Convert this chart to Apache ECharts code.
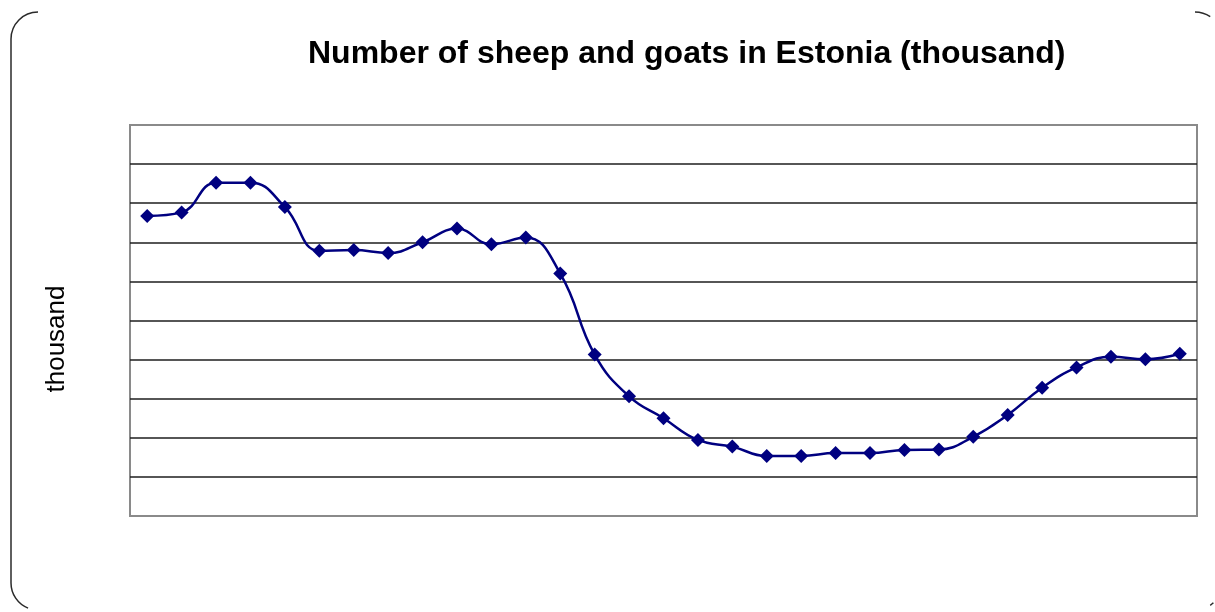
<!DOCTYPE html>
<html>
<head>
<meta charset="utf-8">
<title>Number of sheep and goats in Estonia</title>
<script src="https://cdn.jsdelivr.net/npm/echarts@6/dist/echarts.min.js"></script>
<style>
  html, body { margin: 0; padding: 0; background: #ffffff; }
  #chart { width: 1215px; height: 612px; }
</style>
</head>
<body>
<div id="chart"></div>
<script>
// Yearly counts, one point per year (labels are not shown on the axis)
const years = [
  1980, 1981, 1982, 1983, 1984, 1985, 1986, 1987, 1988, 1989,
  1990, 1991, 1992, 1993, 1994, 1995, 1996, 1997, 1998, 1999,
  2000, 2001, 2002, 2003, 2004, 2005, 2006, 2007, 2008, 2009, 2010
];
const sheepGoats = [
  153.5, 155.3, 170.5, 170.5, 158.0, 135.7, 136.0, 134.5, 140.0, 147.0,
  139.0, 142.5, 124.0, 82.6, 61.2, 50.0, 38.9, 35.5, 30.7, 30.7,
  32.2, 32.2, 33.8, 34.0, 40.5, 51.7, 65.6, 76.0, 81.5, 80.2, 83.0
];
const yMin = 0;
const yMax = 200;
const yStep = 20;

const titleText = 'Number of sheep and goats in Estonia (thousand)';
const yTitle = 'thousand';

// Outer frame: grid edges grey, inner gridlines dark
const lineCount = (yMax - yMin) / yStep + 1;
const splitColors = [];
for (let i = 0; i < lineCount; i++) {
  splitColors.push(i === 0 || i === lineCount - 1 ? '#8a8a8a' : '#1e1e1e');
}

const frameColor = '#2a2a2a';
const chart = echarts.init(document.getElementById('chart'), null, { renderer: 'canvas' });

chart.setOption({
  backgroundColor: '#ffffff',
  animation: false,
  title: {
    text: titleText,
    left: 303,
    top: 33,
    textStyle: {
      fontFamily: '"Liberation Sans", Arial, sans-serif',
      fontSize: 32,
      fontWeight: 'bold',
      color: '#000000'
    }
  },
  grid: {
    left: 130,
    top: 125,
    right: 18,
    bottom: 96,
    show: true,
    borderColor: '#8a8a8a',
    borderWidth: 2,
    backgroundColor: '#ffffff',
    containLabel: false
  },
  xAxis: {
    type: 'category',
    data: years,
    boundaryGap: true,
    axisLine: { show: false },
    axisTick: { show: false },
    axisLabel: { show: false },
    splitLine: { show: false }
  },
  yAxis: {
    type: 'value',
    min: yMin,
    max: yMax,
    interval: yStep,
    axisLine: { show: false },
    axisTick: { show: false },
    axisLabel: { show: false },
    splitLine: { show: true, lineStyle: { color: splitColors, width: 1.5 } }
  },
  series: [{
    name: 'Sheep and goats',
    type: 'line',
    data: sheepGoats,
    smooth: 0.45,
    symbol: 'diamond',
    symbolSize: 14,
    lineStyle: { color: '#000080', width: 2.5 },
    itemStyle: { color: '#000080', borderWidth: 0 }
  }],
  graphic: [
    {
      type: 'text',
      x: 57,
      y: 339,
      rotation: Math.PI / 2,
      style: {
        text: yTitle,
        fontFamily: '"Liberation Sans", Arial, sans-serif',
        fontSize: 26,
        fill: '#000000',
        textAlign: 'center',
        textVerticalAlign: 'middle'
      }
    },
    // rounded frame around the chart
    {
      type: 'line',
      shape: { x1: 11, y1: 39, x2: 11, y2: 583 },
      style: { stroke: frameColor, lineWidth: 1.5 }
    },
    {
      type: 'arc',
      shape: { cx: 38, cy: 39, r: 27, startAngle: Math.PI, endAngle: Math.PI * 1.5, clockwise: true },
      style: { stroke: frameColor, lineWidth: 1.5, fill: null }
    },
    {
      type: 'arc',
      shape: { cx: 38, cy: 583, r: 27, startAngle: Math.PI * 0.62, endAngle: Math.PI, clockwise: true },
      style: { stroke: frameColor, lineWidth: 1.5, fill: null }
    },
    {
      type: 'arc',
      shape: { cx: 1195, cy: 39, r: 27, startAngle: Math.PI * 1.5, endAngle: Math.PI * 1.5 + 0.6, clockwise: true },
      style: { stroke: frameColor, lineWidth: 1.5, fill: null }
    },
    {
      type: 'arc',
      shape: { cx: 1195, cy: 583, r: 27, startAngle: Math.PI * 0.5 - 0.75, endAngle: Math.PI * 0.5 - 0.6, clockwise: true },
      style: { stroke: frameColor, lineWidth: 1.5, fill: null }
    }
  ]
});
</script>
</body>
</html>
